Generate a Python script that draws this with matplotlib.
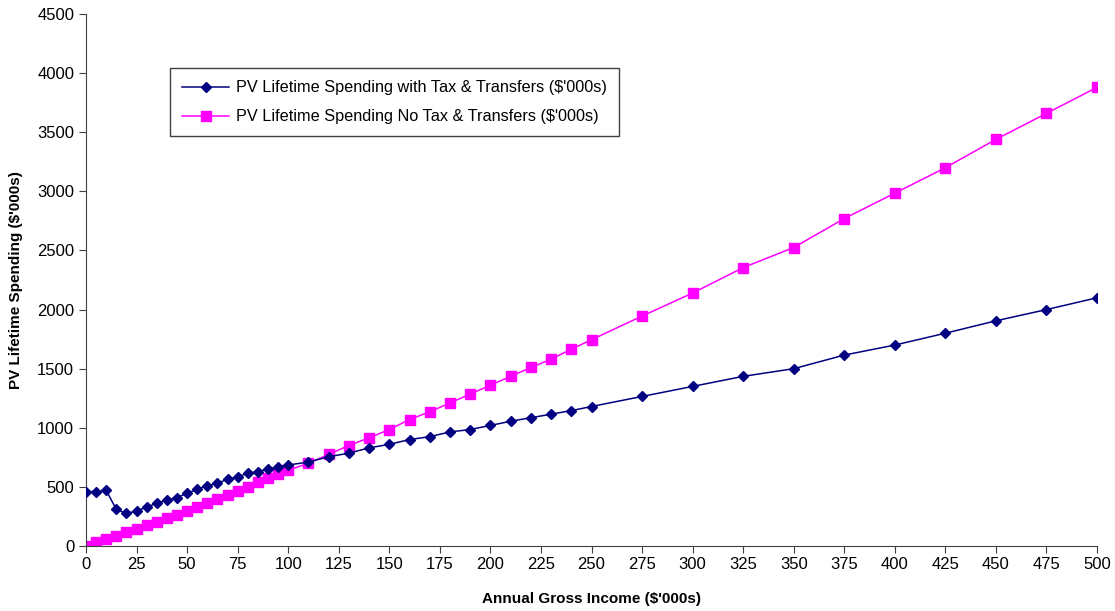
import matplotlib.pyplot as plt

plt.rcParams['font.family'] = ['Liberation Sans', 'DejaVu Sans']

# Annual gross income ($'000s)
income = [0, 5, 10, 15, 20, 25, 30, 35, 40, 45, 50, 55, 60, 65, 70, 75, 80, 85, 90, 95, 100,
          110, 120, 130, 140, 150, 160, 170, 180, 190, 200, 210, 220, 230, 240, 250,
          275, 300, 325, 350, 375, 400, 425, 450, 475, 500]

# PV lifetime spending with tax & transfers
with_tax = [460, 460, 470, 310, 275, 295, 330, 360, 390, 410, 445, 480, 510, 530, 565, 585,
            615, 630, 650, 670, 685,
            710, 755, 785, 830, 860, 900, 925, 965, 985, 1020, 1055, 1085, 1115, 1145, 1180,
            1265, 1350, 1435, 1500, 1615, 1700, 1800, 1905, 2000, 2100]

# PV lifetime spending without tax & transfers
no_tax = [0, 30, 55, 85, 115, 145, 175, 205, 235, 265, 295, 330, 365, 400, 435, 465,
          500, 540, 575, 610, 640,
          700, 775, 850, 915, 985, 1070, 1135, 1210, 1285, 1360, 1435, 1510, 1580, 1665, 1745,
          1945, 2140, 2355, 2525, 2770, 2985, 3200, 3440, 3660, 3880]

fig = plt.figure(figsize=(11.15, 6.11), dpi=100)
ax = fig.add_axes([0.0771, 0.1064, 0.9068, 0.8706])

ax.plot(income, with_tax, color='#000080', marker='D', markersize=5, linewidth=1.1,
        label="PV Lifetime Spending with Tax & Transfers ($'000s)", zorder=3)
ax.plot(income, no_tax, color='#FF00FF', marker='s', markersize=7, linewidth=1.1,
        label="PV Lifetime Spending No Tax & Transfers ($'000s)", zorder=2)

ax.set_xlim(0, 500)
ax.set_ylim(0, 4500)
ax.set_xticks(range(0, 501, 25))
ax.set_yticks(range(0, 4501, 500))
ax.tick_params(axis='both', labelsize=12, direction='out', length=5, color='#404040')
ax.tick_params(axis='x', pad=3)

for side in ['top', 'right']:
    ax.spines[side].set_visible(False)
for side in ['left', 'bottom']:
    ax.spines[side].set_color('#404040')

ax.set_xlabel("Annual Gross Income ($'000s)", fontsize=11, fontweight='bold', labelpad=14)
ax.set_ylabel("PV Lifetime Spending ($'000s)", fontsize=11, fontweight='bold', labelpad=10)

leg = ax.legend(loc='upper left', bbox_to_anchor=(0.083, 0.898), fontsize=11.7,
                fancybox=False, edgecolor='#404040', framealpha=1, borderpad=0.75,
                borderaxespad=0, handlelength=2.9, handletextpad=0.4, labelspacing=0.85)
leg.get_frame().set_linewidth(1.0)

fig.savefig('out.png', dpi=100)
